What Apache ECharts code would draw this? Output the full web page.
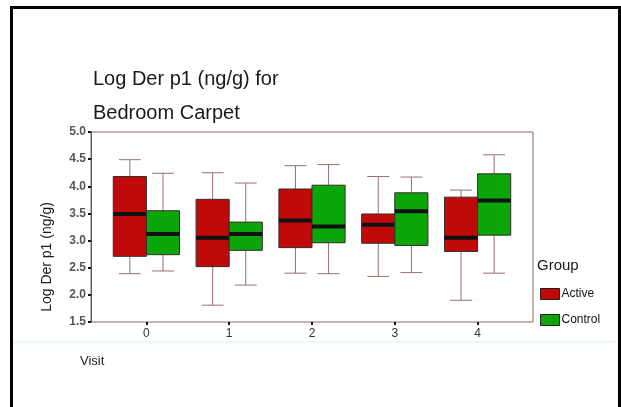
<!DOCTYPE html>
<html>
<head>
<meta charset="utf-8">
<script src="https://cdn.jsdelivr.net/npm/echarts@6/dist/echarts.min.js"></script>
<style>
  html, body { margin: 0; padding: 0; background: #fff; }
  #main { width: 621px; height: 407px; }
</style>
</head>
<body>
<div id="main"></div>
<script>
var visits = ['0', '1', '2', '3', '4'];
// [min, q1, median, q3, max] per visit
var active = [
    [2.39, 2.71, 3.49, 4.18, 4.49],
    [1.81, 2.52, 3.05, 3.76, 4.25],
    [2.40, 2.87, 3.37, 3.95, 4.38],
    [2.34, 2.95, 3.29, 3.49, 4.18],
    [1.90, 2.80, 3.05, 3.80, 3.93]
];
var control = [
    [2.44, 2.74, 3.12, 3.55, 4.24],
    [2.18, 2.82, 3.12, 3.34, 4.06],
    [2.39, 2.96, 3.26, 4.02, 4.40],
    [2.41, 2.91, 3.54, 3.88, 4.17],
    [2.40, 3.10, 3.74, 4.23, 4.58]
];
var yTicks = [1.5, 5.0, 0.5]; // min, max, step

var RED = '#c00a0a';
var GREEN = '#0aa60a';
var WHISKER = '#9a6e6e';

var chart = echarts.init(document.getElementById('main'));

var toRows = function (list) {
    return list.map(function (d, i) {
        return [i].concat(d);
    });
};

var makeBoxRender = function (side) {
    return function (params, api) {
        var cat = api.value(0);
        var band = api.size([1, 0])[0];
        var w = band * 0.4;
        var cap = w * 0.66;
        var pLo = api.coord([cat, api.value(1)]);
        var pQ1 = api.coord([cat, api.value(2)]);
        var pMed = api.coord([cat, api.value(3)]);
        var pQ3 = api.coord([cat, api.value(4)]);
        var pHi = api.coord([cat, api.value(5)]);
        var cx = pMed[0] + side * w / 2;
        var x0 = cx - w / 2;
        var color = api.visual('color');
        return {
            type: 'group',
            children: [
                {type: 'line', shape: {x1: cx, y1: pHi[1], x2: cx, y2: pQ3[1]}, style: {stroke: WHISKER, lineWidth: 1}},
                {type: 'line', shape: {x1: cx, y1: pQ1[1], x2: cx, y2: pLo[1]}, style: {stroke: WHISKER, lineWidth: 1}},
                {type: 'line', shape: {x1: cx - cap / 2, y1: pHi[1], x2: cx + cap / 2, y2: pHi[1]}, style: {stroke: WHISKER, lineWidth: 1}},
                {type: 'line', shape: {x1: cx - cap / 2, y1: pLo[1], x2: cx + cap / 2, y2: pLo[1]}, style: {stroke: WHISKER, lineWidth: 1}},
                {type: 'rect', shape: {x: x0, y: pQ3[1], width: w, height: pQ1[1] - pQ3[1]}, style: {fill: color, stroke: '#3a2a2a', lineWidth: 1}},
                {type: 'line', shape: {x1: x0, y1: pMed[1], x2: x0 + w, y2: pMed[1]}, style: {stroke: '#111', lineWidth: 4}}
            ]
        };
    };
};

var option = {
    backgroundColor: '#fff',
    animation: false,
    title: {
        text: 'Log Der p1 (ng/g) for\nBedroom Carpet',
        left: 88,
        top: 57,
        textStyle: {
            fontFamily: 'Liberation Sans',
            fontSize: 20,
            fontWeight: 'normal',
            color: '#1a1a1a',
            lineHeight: 34
        }
    },
    legend: {
        data: ['Active', 'Control'],
        orient: 'vertical',
        left: 535,
        top: 283,
        itemWidth: 19,
        itemHeight: 11,
        itemGap: 14,
        icon: 'rect',
        selectedMode: false,
        itemStyle: {borderColor: '#2a1a1a', borderWidth: 1},
        textStyle: {fontFamily: 'Liberation Sans', fontSize: 12, color: '#111', padding: [0, 0, 0, -3]}
    },
    grid: [
        {left: 91, top: 132, width: 442, height: 190, show: true, borderColor: '#8a6464', borderWidth: 1, backgroundColor: 'transparent'},
        {left: 105, top: 132, width: 414, height: 190}
    ],
    xAxis: [
        {type: 'value', gridIndex: 0, show: false, min: 0, max: 1},
        {
            type: 'category', gridIndex: 1, data: visits,
            axisLine: {show: false},
            axisTick: {show: true, alignWithLabel: true, length: 3, lineStyle: {color: '#111', width: 2}},
            axisLabel: {fontFamily: 'Liberation Sans', fontSize: 12, color: '#333', margin: 6}
        }
    ],
    yAxis: [
        {
            type: 'value', gridIndex: 0, min: yTicks[0], max: yTicks[1], interval: yTicks[2],
            axisLine: {show: true, lineStyle: {color: '#7a4a4a', width: 1}},
            axisTick: {show: true, length: 3, lineStyle: {color: '#111', width: 2}},
            axisLabel: {fontFamily: 'Liberation Sans', fontSize: 12, fontWeight: 'bold', color: '#555', margin: 5,
                formatter: function (v) { return v.toFixed(1); }},
            splitLine: {show: false}
        },
        {type: 'value', gridIndex: 1, min: yTicks[0], max: yTicks[1], show: false, splitLine: {show: false}}
    ],
    graphic: [
        {type: 'rect', shape: {x: 10, y: 6, width: 3, height: 401}, style: {fill: '#000'}, z: 100},
        {type: 'rect', shape: {x: 10, y: 6, width: 611, height: 3}, style: {fill: '#000'}, z: 100},
        {type: 'rect', shape: {x: 618, y: 6, width: 3, height: 401}, style: {fill: '#000'}, z: 100},
        {type: 'line', shape: {x1: 13, y1: 342, x2: 618, y2: 342}, style: {stroke: '#d6f2f2', lineWidth: 1}},
        {
            type: 'text', x: 47, y: 257, rotation: Math.PI / 2,
            style: {text: 'Log Der p1 (ng/g)', fontFamily: 'Liberation Sans', fontSize: 14, fill: '#1a1a1a', align: 'center', verticalAlign: 'middle'}
        },
        {
            type: 'text', x: 537, y: 258,
            style: {text: 'Group', fontFamily: 'Liberation Sans', fontSize: 15, fill: '#1a1a1a'}
        },
        {
            type: 'text', x: 80, y: 355,
            style: {text: 'Visit', fontFamily: 'Liberation Sans', fontSize: 13, fill: '#1a1a1a'}
        }
    ],
    series: [
        {
            name: 'Active', type: 'custom', xAxisIndex: 1, yAxisIndex: 1,
            itemStyle: {color: RED},
            renderItem: makeBoxRender(-1),
            encode: {x: 0, y: [1, 2, 3, 4, 5]},
            data: toRows(active)
        },
        {
            name: 'Control', type: 'custom', xAxisIndex: 1, yAxisIndex: 1,
            itemStyle: {color: GREEN},
            renderItem: makeBoxRender(1),
            encode: {x: 0, y: [1, 2, 3, 4, 5]},
            data: toRows(control)
        }
    ]
};

chart.setOption(option);
</script>
</body>
</html>
